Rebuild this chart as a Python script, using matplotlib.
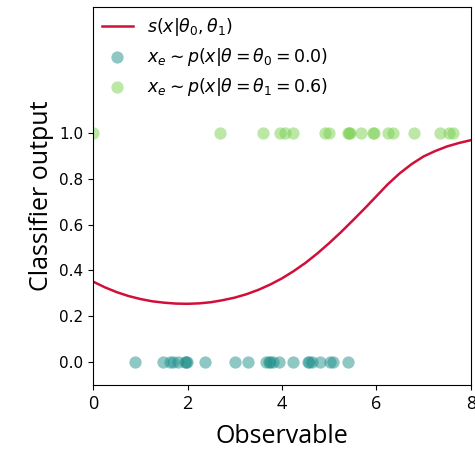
import numpy as np
import matplotlib.pyplot as plt

# observable values of the two samples
x_theta0 = [0.88, 1.49, 1.62, 1.70, 1.80, 1.94, 1.96, 1.98, 2.37, 3.00, 3.28,
            3.67, 3.72, 3.74, 3.81, 3.94, 4.24, 4.56, 4.58, 4.63, 4.81, 5.02,
            5.09, 5.40]
x_theta1 = [0.0, 2.68, 3.60, 3.97, 4.06, 4.24, 4.91, 5.00, 5.40, 5.42, 5.45,
            5.67, 5.93, 5.95, 6.24, 6.36, 6.79, 7.34, 7.54, 7.63]

# classifier output curve
curve_x = [0.0, 0.25, 0.5, 0.75, 1.0, 1.25, 1.5, 1.75, 2.0, 2.25, 2.5, 2.75,
           3.0, 3.25, 3.5, 3.75, 4.0, 4.25, 4.5, 4.75, 5.0, 5.25, 5.5, 5.75,
           6.0, 6.25, 6.5, 6.75, 7.0, 7.25, 7.5, 7.75, 8.0]
curve_s = [0.351, 0.326, 0.305, 0.288, 0.275, 0.265, 0.259, 0.255, 0.254,
           0.256, 0.261, 0.270, 0.281, 0.296, 0.315, 0.338, 0.365, 0.397,
           0.433, 0.474, 0.519, 0.567, 0.618, 0.670, 0.724, 0.778, 0.825,
           0.865, 0.898, 0.922, 0.942, 0.957, 0.969]

fig = plt.figure(figsize=(4.75, 4.57), dpi=100)
ax = fig.add_axes([0.196, 0.158, 0.795, 0.826])

ax.plot(curve_x, curve_s, color='#d0103a', lw=1.8,
        label=r'$s(x|\theta_0, \theta_1)$')
ax.scatter(x_theta0, np.zeros(len(x_theta0)), s=78, color='#21918c',
           alpha=0.5, lw=0, label=r'$x_e \sim p(x|\theta = \theta_0 = 0.0)$')
ax.scatter(x_theta1, np.ones(len(x_theta1)), s=78, color='#7ad151',
           alpha=0.5, lw=0, label=r'$x_e \sim p(x|\theta = \theta_1 = 0.6)$')

ax.set_xlim(0, 8)
ax.set_ylim(-0.1, 1.55)
ax.set_xticks([0, 2, 4, 6, 8])
ax.set_yticks([0.0, 0.2, 0.4, 0.6, 0.8, 1.0])
for t in ax.get_xticklabels():
    t.set_fontfamily('Open Sans')
    t.set_fontsize(13)
ax.tick_params(axis='y', labelsize=11)
ax.set_xlabel('Observable', fontfamily='Open Sans', fontsize=18, labelpad=8)
ax.set_ylabel('Classifier output', fontfamily='Open Sans', fontsize=18)

ax.legend(loc='upper left', frameon=False, fontsize=12.5, borderaxespad=0.1,
          handlelength=1.8, labelspacing=0.45)
fig.savefig('out.png')
